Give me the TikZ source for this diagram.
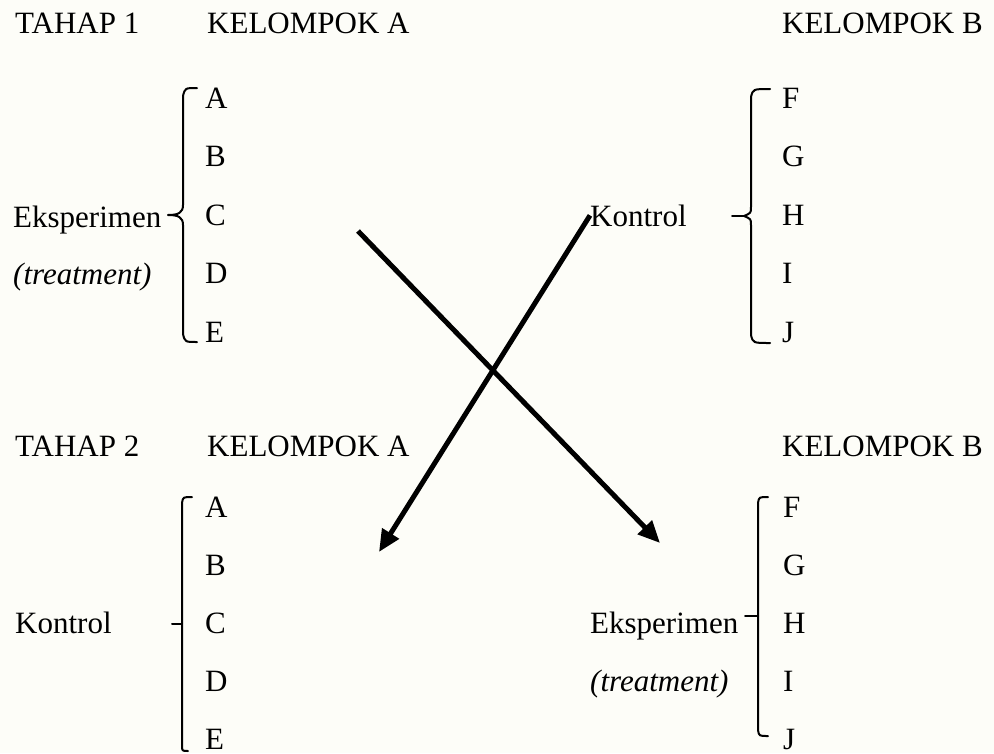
\documentclass[tikz,border=0pt]{standalone}
\usepackage{fontspec}
\setmainfont{Liberation Serif}
\usetikzlibrary{arrows.meta}

\definecolor{paper}{RGB}{253,253,248}

\tikzset{
  txt/.style={anchor=base west, inner sep=0pt, font=\fontsize{31}{37}\selectfont},
  brace/.style={line width=2pt, line cap=round, line join=round},
  crossarrow/.style={line width=5pt, -{Triangle[length=22pt,width=19pt]}},
}

\begin{document}
\begin{tikzpicture}[x=1pt,y=-1pt]
  \fill[paper] (0,0) rectangle (994,753);
  \useasboundingbox (0,0) rectangle (994,753);

  % ----------------------
  % the two header rows
  % ----------------------
  \node[txt] (tahap1) at (15,33) {TAHAP 1};
  \node[txt] (kelA1) at (207,33) {KELOMPOK A};
  \node[txt,anchor=base east] (kelB1) at (983,33) {KELOMPOK B};
  \node[txt] (tahap2) at (15,456) {TAHAP 2};
  \node[txt] (kelA2) at (207,456) {KELOMPOK A};
  \node[txt,anchor=base east] (kelB2) at (983,456) {KELOMPOK B};

  % ----------------------
  % members of each group
  % ----------------------
  \foreach \m [count=\i from 0] in {A,B,C,D,E}{
    \node[txt] (up\m) at (205,108.5+58.4*\i) {\m};
    \node[txt] (lo\m) at (205,517+58*\i) {\m};
  }
  \foreach \m [count=\i from 0] in {F,G,H,I,J}{
    \node[txt] (up\m) at (782,108.5+58.4*\i) {\m};
    \node[txt] (lo\m) at (783,517+58*\i) {\m};
  }

  % role of each group
  \node[txt] (eksA) at (13,227) {Eksperimen};
  \node[txt] (treatA) at (13,284) {\textit{(treatment)}};
  \node[txt] (konB) at (590,226) {Kontrol};
  \node[txt] (konA) at (15,633) {Kontrol};
  \node[txt] (eksB) at (590,633) {Eksperimen};
  \node[txt] (treatB) at (590,691) {\textit{(treatment)}};

  % ----------------------
  % braces
  % ----------------------
  \draw[brace] (197,88) .. controls (185,88) .. (183,96) -- (183,205)
    .. controls (183,213) and (178,215) .. (168,215)
    .. controls (178,215) and (183,217) .. (183,225) -- (183,334)
    .. controls (185,342) .. (197,342);
  \draw[brace] (770,89) .. controls (753,89) .. (751,97) -- (751,207)
    .. controls (751,213) .. (744,216)
    .. controls (751,219) .. (751,225) -- (751,335)
    .. controls (753,343) .. (770,343);
  \draw[brace] (732,216) -- (744,216);
  \draw[brace] (192,497) .. controls (183,497) .. (182,503) -- (182,745)
    .. controls (182,751) .. (188,751);
  \draw[brace] (172,624) -- (182,624);
  \draw[brace] (768,497) .. controls (759,497) .. (758,503) -- (758,730)
    .. controls (759,736) .. (768,736);
  \draw[brace] (745,616) -- (758,616);

  % ----------------------
  % the groups swap roles
  % ----------------------
  \coordinate (fromA) at (358,231);
  \coordinate (toB) at (660,543);
  \coordinate (toA) at (379,552);
  \draw[crossarrow] (fromA) -- (toB);
  \draw[crossarrow] (konB.west) -- (toA);
\end{tikzpicture}
\end{document}
